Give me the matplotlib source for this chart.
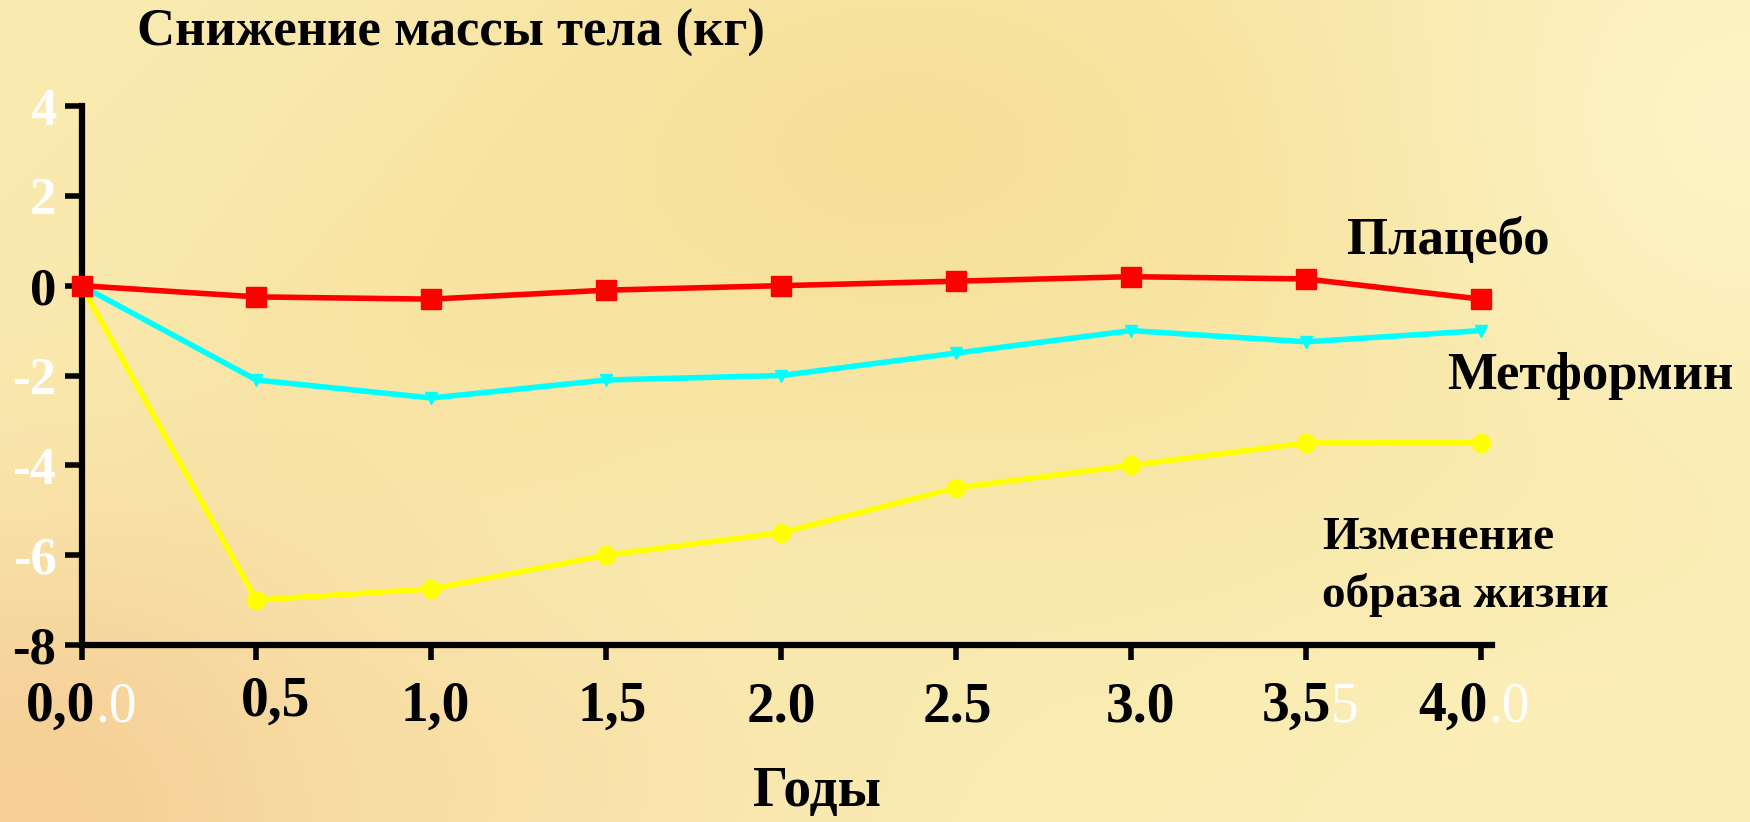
import numpy as np
import matplotlib
matplotlib.use("Agg")
import matplotlib.pyplot as plt
from matplotlib.font_manager import FontProperties
from matplotlib.textpath import TextToPath

# ---- data -------------------------------------------------------------
years = [0.0, 0.5, 1.0, 1.5, 2.0, 2.5, 3.0, 3.5, 4.0]
placebo = [0.0, -0.25, -0.3, -0.1, 0.0, 0.1, 0.2, 0.15, -0.3]
metformin = [0.0, -2.1, -2.5, -2.1, -2.0, -1.5, -1.0, -1.25, -1.0]
lifestyle = [0.0, -7.0, -6.75, -6.0, -5.5, -4.5, -4.0, -3.5, -3.5]

x_tick_main = ["0,0", "0,5", "1,0", "1,5", "2.0", "2.5", "3.0", "3,5", "4,0"]
x_tick_tail = [".0", "", "", "", "", "", "", "5", ".0"]
y_ticks = [4, 2, 0, -2, -4, -6, -8]
y_tick_labels = ["4", "2", "0", "-2", "-4", "-6", "-8"]
y_label_colors = ["white", "white", "black", "white", "white", "white", "black"]
y_mark_colors = ["black", "black", "white", "black", "white", "black", "black"]

title = "Снижение массы тела (кг)"
xlabel = "Годы"
series_names = ["Плацебо", "Метформин", "Изменение\nобраза жизни"]

SERIF = "Liberation Serif"
W, H, DPI = 1750, 822, 100

fig = plt.figure(figsize=(W / DPI, H / DPI), dpi=DPI)

# ---- warm golden backdrop ----------------------------------------------
bg = fig.add_axes([0, 0, 1, 1], zorder=-10)
h, w = 206, 438
yy, xx = np.mgrid[0:1:h * 1j, 0:1:w * 1j]
img = np.ones((h, w, 3)) * np.array([250, 236, 180]) / 255.0


def tint(img, cx, cy, sx, sy, rgb, strength):
    a = strength * np.exp(-(((xx - cx) / sx) ** 2 + ((yy - cy) / sy) ** 2))
    col = np.array(rgb) / 255.0
    return img * (1 - a[..., None]) + col * a[..., None]


img = tint(img, 0.52, 0.18, 0.30, 0.40, (245, 216, 132), 0.55)
img = tint(img, 0.22, 0.42, 0.20, 0.30, (247, 224, 150), 0.40)
img = tint(img, 0.72, 0.55, 0.22, 0.30, (247, 226, 155), 0.40)
img = tint(img, 0.02, 1.00, 0.22, 0.38, (245, 205, 148), 0.95)
img = tint(img, 0.28, 0.95, 0.18, 0.20, (248, 218, 160), 0.45)
img = tint(img, 0.99, 0.15, 0.16, 0.35, (253, 245, 200), 0.8)
img = tint(img, 0.90, 0.90, 0.25, 0.30, (252, 240, 185), 0.6)
img = tint(img, 0.04, 0.20, 0.10, 0.25, (250, 234, 175), 0.6)
bg.imshow(img, aspect="auto", extent=[0, 1, 0, 1], interpolation="bicubic")
bg.set_xlim(0, 1)
bg.set_ylim(0, 1)
bg.axis("off")

# ---- main axes -----------------------------------------------------------
x0, x1 = 81.5, 1491.5
ytop, ybot = 106, 645
ax = fig.add_axes([x0 / W, 1 - ybot / H, (x1 - x0) / W, (ybot - ytop) / H])
ax.patch.set_alpha(0)
ax.set_xlim(0, 4.03)
ax.set_ylim(-8, 4)

for s in ("top", "right"):
    ax.spines[s].set_visible(False)
for s in ("left", "bottom"):
    ax.spines[s].set_linewidth(4.5)
    ax.spines[s].set_color("black")

ax.plot(years, lifestyle, color="#ffff00", lw=4, marker="o", ms=13,
        clip_on=False, zorder=3)
ax.plot(years, metformin, color="#00ffff", lw=4, marker="v", ms=9,
        clip_on=False, zorder=4)
ax.plot(years, placebo, color="#ff0000", lw=4, marker="s", ms=14,
        clip_on=False, zorder=5)

# y axis ticks
ax.set_yticks(y_ticks)
ax.set_yticklabels(y_tick_labels, fontsize=38, fontweight="bold",
                   fontfamily=SERIF)
ax.tick_params(axis="y", direction="out", length=12, width=4, pad=6)
for tick, lc, mc in zip(ax.yaxis.get_major_ticks(), y_label_colors,
                        y_mark_colors):
    tick.label1.set_color(lc)
    tick.tick1line.set_color(mc)

# x axis ticks: marks only; labels are drawn below as two-colour text
XT_SIZE, XT_LEN, XT_PAD = 40, 11, 15
ax.set_xticks(years)
ax.set_xticklabels([""] * len(years))
ax.tick_params(axis="x", direction="out", length=XT_LEN, width=4)

head_prop = FontProperties(family=SERIF, weight="bold", size=XT_SIZE)
tail_prop = FontProperties(family=SERIF, weight="normal", size=XT_SIZE)
t2p = TextToPath()
nudge_x = [0, 14, 3, 4, 0, 1, 7, 3, -5]   # points
nudge_y = [0, 4, 0, 0, 0, 0, 0, 0, 0]     # points
for xv, main, tail, dx, dy in zip(years, x_tick_main, x_tick_tail,
                                  nudge_x, nudge_y):
    w_head = t2p.get_text_width_height_descent(main, head_prop, False)[0]
    w_tail = (t2p.get_text_width_height_descent(tail, tail_prop, False)[0]
              if tail else 0.0)
    # the whole "head+tail" string is centred under the tick
    shift = (w_head - (w_head + w_tail) / 2.0) - w_head / 2.0
    head = ax.annotate(main, xy=(xv, 0), xycoords=ax.get_xaxis_transform(),
                       xytext=(shift + dx, -(XT_LEN + XT_PAD) + dy),
                       textcoords="offset points", ha="center", va="top",
                       fontproperties=head_prop, color="black",
                       annotation_clip=False)
    if tail:
        ax.annotate(tail, xy=(1, 0), xycoords=head, ha="left", va="bottom",
                    fontproperties=tail_prop, color="white",
                    annotation_clip=False)

# ---- texts ---------------------------------------------------------------
fig.text(137 / W, 1 - 46 / H, title, fontsize=38, fontweight="bold",
         fontfamily=SERIF, ha="left", va="baseline")
fig.text(753 / W, 1 - 806 / H, xlabel, fontsize=40, fontweight="bold",
         fontfamily=SERIF, ha="left", va="baseline")

fig.text(1347 / W, 1 - 254 / H, series_names[0], fontsize=38,
         fontweight="bold", fontfamily=SERIF, ha="left", va="baseline")
fig.text(1447 / W, 1 - 389 / H, series_names[1], fontsize=38,
         fontweight="bold", fontfamily=SERIF, ha="left", va="baseline")
fig.text(1322 / W, 1 - 607 / H, series_names[2], fontsize=34,
         fontweight="bold", fontfamily=SERIF, ha="left", va="baseline",
         linespacing=1.42)

fig.savefig("out.png", dpi=DPI)
